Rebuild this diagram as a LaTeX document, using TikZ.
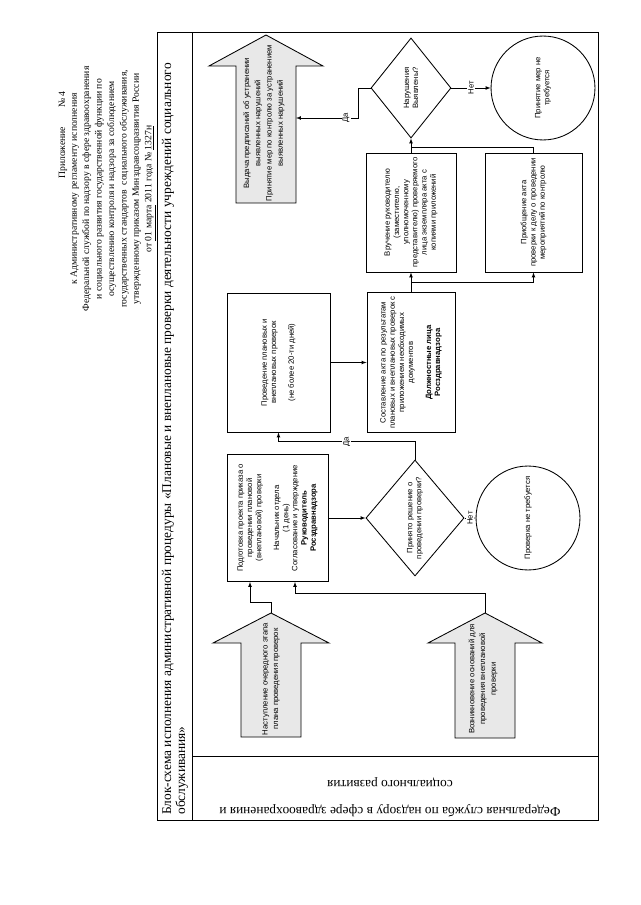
\documentclass[tikz,border=0pt]{standalone}
\usepackage{fontspec}
\setmainfont{Liberation Serif}
\setsansfont{Liberation Sans}
\usetikzlibrary{shapes.geometric,positioning,calc}
\tikzset{->, % connectors get heads
>=latex, % small filled heads
flow/.style={align=center, font=\sffamily\fontsize{7.2}{8.6}\selectfont},
box/.style={flow, draw, thick, rectangle, inner sep=2pt},
choice/.style={flow, draw, thick, diamond, inner sep=0pt},
stopper/.style={flow, draw, thick, circle, inner sep=1pt},
pointer/.style={-, draw, thick, fill=gray!18},
answer/.style={flow, fill=white, inner sep=1pt},
}

\begin{document}
\begin{tikzpicture}[x=0.0328125cm, y=0.0328125cm, semithick]
\useasboundingbox (0,0) rectangle (640,-905);
\begin{scope}[shift={(640,-905)}, rotate=90, every node/.append style={transform shape}]
% header
\node[inner sep=0pt, font=\fontsize{9}{11.6}\selectfont] (appx) at (770,577) {Приложение\hspace{2em}№ 4};
\node[inner sep=0pt, align=center, font=\fontsize{9}{11.6}\selectfont] (rules) at (716,527) {к Административному регламенту исполнения\\
Федеральной службой по надзору в сфере здравоохранения\\
и социального развития государственной функции по\\
осуществлению контроля и надзора за соблюдением\\
государственных стандартов\ \ социального обслуживания,\\
утвержденному приказом Минздравсоцразвития России\\
от \underline{01 марта} 2011 года № \underline{1327н}};
% frame
\draw[-, thick] (85,42) rectangle (873,483);
\draw[-, thick] (85,448) -- (873,448);
\draw[-, thick] (149,42) -- (149,448);
\node[anchor=west, align=left, inner sep=0pt, font=\fontsize{12.5}{13}\selectfont] (title) at (90,465) {Блок-схема исполнения административной процедуры «Плановые и внеплановые проверки деятельности учреждений социального\\обслуживания»};
\node[rotate=90, align=center, font=\fontsize{12.5}{25}\selectfont] (lane) at (108,250) {Федеральная служба по надзору в сфере здравоохранения и\\социального развития};
% big arrows
\draw[pointer] (168,339) -- (262,339) -- (262,311) -- (292,369) -- (262,427) -- (262,399) -- (168,399) -- cycle;
\coordinate (plantip) at (292,369);
\node[flow, font=\sffamily\fontsize{7.2}{10}\selectfont] (plan) at (226,369) {Наступление очередного этапа\\плана проведения проверок};
\draw[pointer] (167,125) -- (262,125) -- (262,98) -- (292,155) -- (262,212) -- (262,185) -- (167,185) -- cycle;
\coordinate (unpltip) at (292,155);
\node[flow, font=\sffamily\fontsize{7.2}{10}\selectfont] (unpl) at (226,157) {Возникновение оснований для\\проведения внеплановой\\проверки};
\draw[pointer] (702,344) -- (839,344) -- (839,317) -- (870,374) -- (839,431) -- (839,404) -- (702,404) -- cycle;
\coordinate (measuresin) at (787,344);
\node[flow, font=\sffamily\fontsize{7.2}{10.5}\selectfont] (measures) at (782,376) {Выдача предписаний об устранении\\выявленных нарушений\\Принятие мер по контролю за устранением\\выявленных нарушений};
% steps
\node[box, minimum width=4.167cm, minimum height=3.314cm] (order) at (387,362.5) {Подготовка проекта приказа о\\проведении плановой\\(внеплановой) проверки\\[8pt]Начальник отдела\\(1 день)\\Согласование и утверждение\\\textbf{Руководитель}\\\textbf{Росздравнадзора}};
\node[choice, minimum width=3.806cm, minimum height=2.625cm] (decide) at (387,225) {Принято решение о\\проведении проверки?};
\node[stopper, minimum size=3.41cm] (nocheck) at (387,112) {Проверка не требуется};
\node[box, minimum width=4.561cm, minimum height=3.38cm] (conduct) at (542.5,361.5) {Проведение плановых и\\внеплановых проверок\\[8pt](не более 20-ти дней)};
\node[box, minimum width=4.594cm, minimum height=2.888cm] (report) at (542.5,229) {Составление акта по результатам\\плановых и внеплановых проверок с\\приложением необходимых\\документов\\[8pt]\textbf{Должностные лица}\\\textbf{Росздравнадзора}};
\node[box, minimum width=3.905cm, minimum height=2.953cm] (handover) at (692.5,229) {Вручение руководителю\\(заместителю,\\уполномоченному\\представителю) проверяемого\\лица экземпляра акта с\\копиями приложений};
\node[box, minimum width=3.905cm, minimum height=3.183cm] (attach) at (692.5,106.5) {Приобщение акта\\проверки к делу о проведении\\мероприятий по контролю};
\node[choice, minimum width=3.281cm, minimum height=2.625cm] (found) at (817,229) {Нарушения\\Выявлены?};
\node[stopper, minimum size=3.41cm] (nomeasure) at (817,97) {Принятие мер не\\требуется};
% connectors
\draw (plantip) -- ++(11,0) |- ($(order.west)+(0,27.5)$);
\draw (unpltip) -- ++(20,0) |- ($(order.west)+(0,-17.5)$);
\draw (order.south) -- (decide.north);
\draw (decide.east) -- ++(18,0) |- (conduct.west) node[answer, pos=0.25] {Да};
\draw (decide.south) -- (nocheck.north) node[answer, midway] {Нет};
\draw (conduct.south) -- (report.north);
\draw (report.east) -- (handover.west);
\draw (report.east) -- ++(10,0) |- (attach.west);
\draw (handover.east) -- (found.west);
\draw[-] (attach.east) -- ++(5,0) |- ($(handover.east)+(5,0)$);
\draw (found.north) -- ++(0,12) -| (measuresin) node[answer, pos=0.6] {Да};
\draw (found.south) -- (nomeasure.north) node[answer, midway] {Нет};
\end{scope}
\end{tikzpicture}
\end{document}
